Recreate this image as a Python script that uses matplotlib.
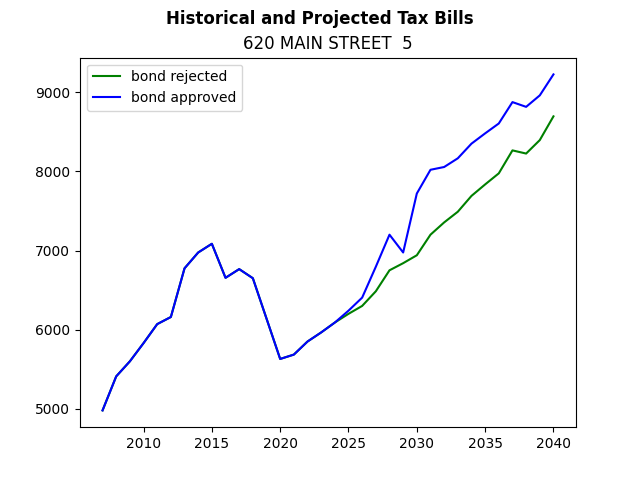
import matplotlib
matplotlib.use("Agg")
import matplotlib.pyplot as plt

years = list(range(2007, 2041))

history = [4980, 5410, 5600, 5830, 6070, 6160, 6775, 6975, 7085, 6655,
           6765, 6650, 6140, 5630, 5685, 5850, 5965, 6090]

rejected_future = [6200, 6300, 6485, 6750, 6840, 6940, 7200, 7355, 7490,
                   7690, 7835, 7975, 8265, 8225, 8395, 8695]
approved_future = [6240, 6405, 6795, 7200, 6975, 7720, 8020, 8055, 8165,
                   8350, 8480, 8605, 8875, 8815, 8960, 9225]

bond_rejected = history + rejected_future
bond_approved = history + approved_future

fig, ax = plt.subplots(figsize=(6.4, 4.8), dpi=100)
fig.suptitle("Historical and Projected Tax Bills", fontweight="bold")
ax.set_title("620 MAIN STREET  5")

ax.plot(years, bond_rejected, color="green", label="bond rejected")
ax.plot(years, bond_approved, color="blue", label="bond approved")
ax.legend(loc="upper left")

plt.savefig("out.png")
